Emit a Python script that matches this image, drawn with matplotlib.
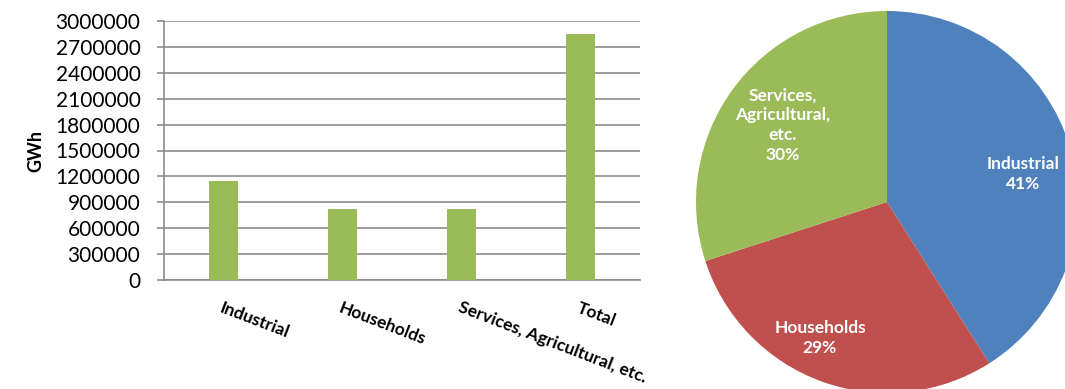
import matplotlib
matplotlib.use("Agg")
import matplotlib.pyplot as plt

# Electricity consumption by sector (GWh)
categories = ["Industrial", "Households", "Services, Agricultural, etc.", "Total"]
consumption_gwh = [1150000, 820000, 820000, 2850000]
y_ticks = [0, 300000, 600000, 900000, 1200000, 1500000, 1800000, 2100000, 2400000, 2700000, 3000000]

# Sector shares (%)
pie_labels = ["Industrial", "Households", "Services,\nAgricultural,\netc."]
pie_shares = [41, 29, 30]
pie_colors = ["#4F81BD", "#C0504D", "#9BBB59"]

BAR_GREEN = "#9BBB59"
GRID_GRAY = "#8C8C8C"
FONT = "Lato"

fig = plt.figure(figsize=(10.65, 3.89), dpi=100)
fig.patch.set_facecolor("white")

# --- bar chart ---
W, H = 1065, 389
ax = fig.add_axes([164 / W, 1 - 280 / H, (640 - 164) / W, (280 - 21) / H])
x = range(len(categories))
ax.bar(x, consumption_gwh, width=0.24, color=BAR_GREEN, zorder=3)
ax.set_xlim(-0.5, len(categories) - 0.5)
ax.set_ylim(0, 3000000)
ax.set_yticks(y_ticks)
ax.set_yticklabels([str(v) for v in y_ticks], fontsize=15, fontfamily=FONT)
ax.yaxis.grid(True, color=GRID_GRAY, linewidth=1.2, zorder=0)
ax.set_axisbelow(True)
for side in ("top", "right"):
    ax.spines[side].set_visible(False)
for side in ("left", "bottom"):
    ax.spines[side].set_color(GRID_GRAY)
    ax.spines[side].set_linewidth(1.2)
ax.tick_params(axis="y", length=5, width=1.2, color=GRID_GRAY, pad=12)
ax.tick_params(axis="x", length=0, pad=14)
ax.set_xticks(list(x))
ax.set_xticklabels(categories, rotation=-21, ha="left", va="top",
                   rotation_mode="anchor", fontsize=12.5, fontweight="bold",
                   fontfamily=FONT)
ax.set_ylabel("GWh", fontsize=13, fontweight="bold", fontfamily=FONT, labelpad=8)

# --- pie chart ---
R = 191
cx, cy = 887, 202
pax = fig.add_axes([(cx - R) / W, (H - cy - R) / H, 2 * R / W, 2 * R / H])
pax.pie(pie_shares, colors=pie_colors, startangle=90, counterclock=False,
        radius=1, wedgeprops=dict(linewidth=0))
pax.set_xlim(-1, 1)
pax.set_ylim(-1, 1)
pax.set_aspect("equal")
pax.axis("off")

label_pos = [(0.712, 0.147), (-0.351, -0.712), (-0.545, 0.403)]
for name, share, (px, py) in zip(pie_labels, pie_shares, label_pos):
    pax.text(px, py, f"{name}\n{share}%", ha="center", va="center",
             color="white", fontsize=12.5, fontweight="bold", fontfamily=FONT,
             linespacing=1.3)

fig.savefig("out.png", dpi=100, facecolor="white")
